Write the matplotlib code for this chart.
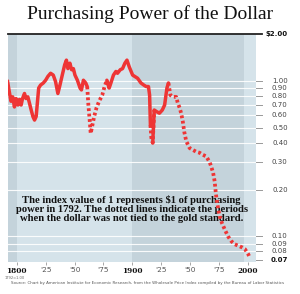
import matplotlib
matplotlib.use("Agg")
import matplotlib.pyplot as plt
import numpy as np

# purchasing power index, 1792 = 1.00
years = [1792, 1793, 1795, 1796.5, 1798, 1799.4, 1801, 1802.3, 1803.8, 1805,
         1806.7, 1808, 1809.6, 1811, 1812.5, 1814, 1815.4, 1816.8, 1819, 1820.6,
         1823, 1825, 1827, 1829.3, 1831.6, 1833.6, 1835.6, 1837.4, 1839.4, 1841.5,
         1843, 1844.3, 1846, 1847.5, 1849, 1850.4, 1852.5, 1854.8, 1856, 1857.7,
         1859.7, 1861,
         1862, 1863.2, 1864, 1865.5, 1867, 1869, 1871.3, 1874, 1876, 1878,
         1880, 1881.5, 1883.7, 1885.8, 1887.2, 1889.6, 1891.6, 1893.6, 1895.4,
         1897.4, 1900.3, 1902, 1904.6, 1907.5, 1910, 1912, 1914, 1915, 1915.7,
         1916.5, 1917.7,
         1919, 1921, 1923.5, 1926, 1928, 1930, 1931.3,
         1933, 1935, 1938, 1939.4, 1941, 1942.3, 1943.7, 1945, 1946.7, 1949.6,
         1952.4, 1955.4, 1958.3, 1961, 1964, 1967, 1968.4, 1970, 1971.3, 1972,
         1972.8, 1974.2, 1975.6, 1977.6, 1980, 1982.9, 1985.8, 1988.7, 1992, 1995,
         1997.4, 2000.3, 2001.7]
values = [1.00, 0.90, 0.74, 0.79, 0.68, 0.77, 0.70, 0.76, 0.70, 0.77,
          0.83, 0.77, 0.79, 0.72, 0.65, 0.59, 0.56, 0.59, 0.90, 0.94,
          0.97, 1.01, 1.07, 1.12, 1.09, 0.99, 0.83, 0.94, 1.09, 1.27,
          1.36, 1.20, 1.30, 1.18, 1.20, 1.09, 1.01, 0.90, 0.875, 1.01,
          0.97, 0.92,
          0.70, 0.55, 0.46, 0.52, 0.59, 0.67, 0.74, 0.81, 0.92, 1.01,
          0.90, 0.97, 1.09, 1.15, 1.12, 1.18, 1.20, 1.30, 1.36,
          1.23, 1.09, 1.07, 1.04, 0.97, 0.94, 0.92, 0.92, 0.81, 0.52,
          0.43, 0.40,
          0.65, 0.635, 0.62, 0.65, 0.70, 0.90, 0.97,
          0.81, 0.79, 0.79, 0.72, 0.67, 0.62, 0.55, 0.47, 0.41, 0.37,
          0.36, 0.35, 0.345, 0.335, 0.327, 0.30, 0.28, 0.256, 0.226, 0.20,
          0.177, 0.153, 0.135, 0.122, 0.111, 0.10, 0.093, 0.089, 0.087, 0.085,
          0.083, 0.077, 0.073]

# periods when the dollar was off the gold standard (drawn dotted)
off_gold = [(1861, 1878), (1915.7, 1917.7), (1931.3, 2010)]

ytick_vals = [2.0, 1.0, 0.9, 0.8, 0.7, 0.6, 0.5, 0.4, 0.3, 0.2, 0.1, 0.09, 0.08, 0.07]
ytick_labels = ["$2.00", "1.00", "0.90", "0.80", "0.70", "0.60", "0.50", "0.40",
                "0.30", "0.20", "0.10", "0.09", "0.08", "0.07"]
xtick_vals = [1800, 1825, 1850, 1875, 1900, 1925, 1950, 1975, 2000]
xtick_labels = ["1800", "'25", "'50", "'75", "1900", "'25", "'50", "'75", "2000"]

red = "#ee3535"
light = "#d5e3ea"
dark = "#c4d3db"

fig = plt.figure(figsize=(3.0, 2.94), dpi=100)
ax = fig.add_axes([0.025, 0.109, 0.828, 0.775])

ax.set_xlim(1792, 2007)
ax.set_yscale("log")
ax.set_ylim(0.0685, 2.0)

# century bands
ax.axvspan(1792, 1800, color=dark, lw=0, zorder=0)
ax.axvspan(1800, 1900, color=light, lw=0, zorder=0)
ax.axvspan(1900, 1997, color=dark, lw=0, zorder=0)
ax.axvspan(1997, 2007, color=light, lw=0, zorder=0)

for v in ytick_vals[1:-1]:
    ax.axhline(v, color="white", lw=0.8, alpha=0.9, zorder=1)

# top rule at $2.00
ax.plot([0, 1.025], [2.0, 2.0], transform=ax.get_yaxis_transform(),
        color="#222222", lw=1.3, clip_on=False, zorder=5)

yrs = np.array(years)
vals = np.array(values)

# solid (gold standard) pieces
solid_ranges = [(1792, off_gold[0][0]), (off_gold[0][1], off_gold[1][0]),
                (off_gold[1][1], off_gold[2][0])]
for a, b in solid_ranges:
    m = (yrs >= a - 0.01) & (yrs <= b + 0.01)
    ax.plot(yrs[m], vals[m], color=red, lw=2.5, solid_joinstyle="round",
            solid_capstyle="round", zorder=3)
for a, b in off_gold:
    m = (yrs >= a - 0.01) & (yrs <= b + 0.01)
    # include next point to keep the line joined
    idx = np.where(m)[0]
    if idx[-1] + 1 < len(yrs):
        idx = np.append(idx, idx[-1] + 1)
    ax.plot(yrs[idx], vals[idx], color=red, lw=2.7, linestyle=(0, (0.75, 0.7)),
            dash_capstyle="butt", zorder=3)

for s in ax.spines.values():
    s.set_visible(False)

ax.set_yticks([])
ax.yaxis.set_minor_locator(matplotlib.ticker.NullLocator())
for v, lab in zip(ytick_vals, ytick_labels):
    if v < 2.0:
        ax.plot([1.0, 1.025], [v, v], transform=ax.get_yaxis_transform(),
                color="#999999", lw=0.7, clip_on=False)
    bold = lab in ("$2.00", "0.07")
    ax.text(1.128, v, lab, transform=ax.get_yaxis_transform(), ha="right",
            va="center", fontsize=5, color="#111111" if bold else "#444444",
            fontweight="bold" if bold else "normal")

ax.set_xticks(xtick_vals)
ax.set_xticklabels(xtick_labels)
ax.tick_params(axis="x", length=2.5, width=0.6, color="#999999", pad=1,
               labelsize=5.3, labelcolor="#555555")
for t in ax.get_xticklabels():
    if t.get_text() in ("1800", "1900", "2000"):
        t.set_fontweight("bold")
        t.set_color("#111111")
        t.set_family("DejaVu Serif")

fig.text(0.5, 0.952, "Purchasing Power of the Dollar", ha="center", va="center",
         fontsize=14, family="Liberation Serif", color="#111111")

ax.text(0.5, 0.232,
        "The index value of 1 represents $1 of purchasing\n"
        "power in 1792. The dotted lines indicate the periods\n"
        "when the dollar was not tied to the gold standard.",
        transform=ax.transAxes, ha="center", va="center", fontsize=7.7,
        family="Liberation Serif", fontweight="bold", color="#111111",
        linespacing=1.0, zorder=2)

fig.text(0.017, 0.054, "1792=1.00", fontsize=2.6, color="#666666", va="center")
fig.text(0.035, 0.036,
         "Source: Chart by American Institute for Economic Research, from the "
         "Wholesale Price Index compiled by the Bureau of Labor Statistics",
         fontsize=2.9, color="#555555", va="center")

fig.savefig("out.png", dpi=100)
